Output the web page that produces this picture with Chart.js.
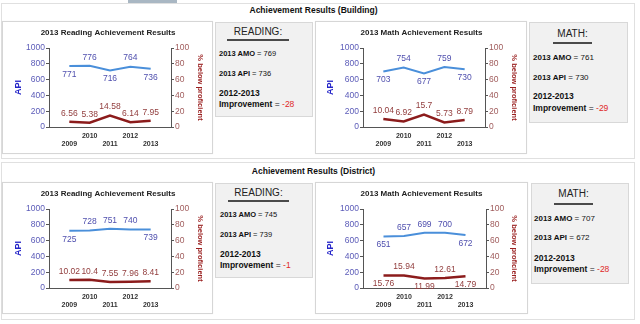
<!DOCTYPE html>
<html>
<head>
<meta charset="utf-8">
<title>Achievement Results</title>
<script src="https://cdn.jsdelivr.net/npm/chart.js@4.4.0/dist/chart.umd.min.js"></script>
<style>
  html, body { margin: 0; padding: 0; background: #fff; }
  body { width: 640px; height: 324px; position: relative; overflow: hidden;
         font-family: Arial, "Liberation Sans", sans-serif; color: #111; }
  .abs { position: absolute; box-sizing: border-box; }
  .tab { left: 128px; top: 0; width: 49px; height: 3px; background: #a9b7c3; }
  .outer { border: 1px solid #e0e0e0; background: #fff; }
  .header { left: 0; width: 627px; text-align: center; font-size: 8.5px; font-weight: bold; line-height: 10px; }
  .panel { background: #fff; border: 1px solid #d6d6d6; box-shadow: 0 0 1px rgba(0,0,0,0.08); }
  .box { background: #f1f1f1; border: 1px solid #d8d8d8; }
  .box .head { position: absolute; text-align: center; font-size: 10px; line-height: 12px; border-bottom: 2px solid #4a4a4a; color: #222; }
  .box .row { position: absolute; white-space: nowrap; line-height: 10px; }
  .neg { color: #e02828; }
  canvas { position: absolute; }
</style>
</head>
<body>
<div class="abs tab"></div>
<div class="abs outer" style="left:1px;top:3px;width:634px;height:156px"></div>
<div class="abs outer" style="left:1px;top:162px;width:634px;height:158px"></div>
<div class="abs header" style="top:5px">Achievement Results (Building)</div>
<div class="abs header" style="top:166px">Achievement Results (District)</div>

<div class="abs panel" style="left:2px;top:21px;width:211px;height:133px"></div>
<div class="abs panel" style="left:315px;top:21px;width:212px;height:133px"></div>
<div class="abs panel" style="left:2px;top:182px;width:211px;height:132px"></div>
<div class="abs panel" style="left:315px;top:182px;width:213px;height:132px"></div>

<canvas id="readingBuilding" width="210" height="131" style="left:3px;top:22px"></canvas>
<canvas id="mathBuilding" width="211" height="131" style="left:316px;top:22px"></canvas>
<canvas id="readingDistrict" width="210" height="131" style="left:3px;top:183px"></canvas>
<canvas id="mathDistrict" width="211" height="131" style="left:316px;top:183px"></canvas>

<script>
const years = [2009, 2010, 2011, 2012, 2013];

const readingBuildingApi = [771, 776, 716, 764, 736];
const readingBuildingBelow = [6.56, 5.38, 14.58, 6.14, 7.95];
const mathBuildingApi = [703, 754, 677, 759, 730];
const mathBuildingBelow = [10.04, 6.92, 15.7, 5.73, 8.79];
const readingDistrictApi = [725, 728, 751, 740, 739];
const readingDistrictBelow = [10.02, 10.4, 7.55, 7.96, 8.41];
const mathDistrictApi = [651, 657, 699, 700, 672];
const mathDistrictBelow = [15.76, 15.94, 11.99, 12.61, 14.79];

const apiTicks = [0, 200, 400, 600, 800, 1000];
const belowTicks = [0, 20, 40, 60, 80, 100];

// summary boxes: reading/math for the building, then reading/math for the district
const summarySubjects = ['READING:', 'MATH:', 'READING:', 'MATH:'];
const summaryAmo = [769, 761, 745, 707];
const summaryApi = [736, 730, 739, 672];
const summaryImprovement = [-28, -29, -1, -28];

const FONT = 'Arial, "Liberation Sans", sans-serif';
Chart.defaults.font.family = FONT;

// writes each point's value above or below it
const valueLabels = {
  id: 'valueLabels',
  afterDatasetsDraw(chart) {
    const ctx = chart.ctx;
    chart.data.datasets.forEach((ds, i) => {
      const meta = chart.getDatasetMeta(i);
      ctx.save();
      ctx.font = '8.5px ' + FONT;
      ctx.fillStyle = ds.labelColor;
      ctx.textAlign = 'center';
      ctx.textBaseline = 'middle';
      meta.data.forEach((pt, j) => {
        const dy = ds.labelSide[j] === 'up' ? -8.5 : 8.5;
        ctx.fillText(String(ds.data[j].y), pt.x, pt.y + dy);
      });
      ctx.restore();
    });
  }
};

function drawChart(id, title, apiData, belowData, cfg) {
  new Chart(document.getElementById(id), {
    type: 'line',
    data: {
      datasets: [
        {
          label: 'API',
          data: years.map((y, i) => ({ x: y, y: apiData[i] })),
          yAxisID: 'y',
          borderColor: '#4a8fda',
          borderWidth: 2,
          pointRadius: 0,
          tension: 0,
          labelColor: '#4f4fae',
          labelSide: cfg.apiSide
        },
        {
          label: '% below proficient',
          data: years.map((y, i) => ({ x: y, y: belowData[i] })),
          yAxisID: 'y1',
          borderColor: '#8c1c1c',
          borderWidth: 2.5,
          pointRadius: 0,
          tension: 0,
          labelColor: '#913c3c',
          labelSide: cfg.belowSide
        }
      ]
    },
    options: {
      responsive: false,
      animation: false,
      layout: { padding: 0 },
      plugins: {
        legend: { display: false },
        tooltip: { enabled: false },
        title: {
          display: true,
          text: title,
          color: '#222',
          font: { size: 8, weight: 'bold' },
          padding: { top: 6, bottom: 10.4 }
        }
      },
      scales: {
        x: {
          type: 'linear',
          min: 2008,
          max: 2014,
          afterBuildTicks: s => { s.ticks = years.map(v => ({ value: v })); },
          afterFit: s => { s.height = 26; },
          grid: { display: false, drawTicks: false },
          border: { display: true, color: '#555' },
          ticks: {
            autoSkip: false,
            maxRotation: 0,
            padding: 5,
            color: '#333',
            font: { size: 7, weight: 'bold', lineHeight: 1.15 },
            callback: v => years.indexOf(v) % 2 === 0 ? ['', String(v)] : String(v)
          }
        },
        y: {
          position: 'left',
          min: 0,
          max: 1000,
          afterBuildTicks: s => { s.ticks = apiTicks.map(v => ({ value: v })); },
          afterFit: s => { s.width = cfg.leftW; },
          grid: { drawOnChartArea: false, drawTicks: true, tickLength: 3, color: '#555' },
          border: { color: '#555' },
          ticks: { padding: 1, color: '#5b5bb8', font: { size: 8.5 }, callback: v => String(v) },
          title: {
            display: true,
            text: 'API',
            color: '#2424c8',
            font: { size: 9, weight: 'bold' },
            padding: { top: cfg.apiPad, bottom: 0 }
          }
        },
        y1: {
          position: 'right',
          min: 0,
          max: 100,
          afterBuildTicks: s => { s.ticks = belowTicks.map(v => ({ value: v })); },
          afterFit: s => { s.width = cfg.rightW; },
          grid: { drawOnChartArea: false, drawTicks: true, tickLength: 3, color: '#555' },
          border: { color: '#555' },
          ticks: { padding: 1, color: '#a05c5c', font: { size: 8.5 }, callback: v => String(v) },
          title: {
            display: true,
            text: '% below proficient',
            color: '#9a2020',
            font: { size: 7.5, weight: 'bold' },
            padding: { top: 8.5, bottom: 0 }
          }
        }
      }
    },
    plugins: [valueLabels]
  });
}

drawChart('readingBuilding', '2013 Reading Achievement Results', readingBuildingApi, readingBuildingBelow, {
  leftW: 46, rightW: 42, apiPad: 10.6,
  apiSide: ['down', 'up', 'down', 'up', 'down'],
  belowSide: ['up', 'up', 'up', 'up', 'up']
});
drawChart('mathBuilding', '2013 Math Achievement Results', mathBuildingApi, mathBuildingBelow, {
  leftW: 47, rightW: 42, apiPad: 9.6,
  apiSide: ['down', 'up', 'down', 'up', 'down'],
  belowSide: ['up', 'up', 'up', 'up', 'up']
});
drawChart('readingDistrict', '2013 Reading Achievement Results', readingDistrictApi, readingDistrictBelow, {
  leftW: 46, rightW: 42, apiPad: 10.6,
  apiSide: ['down', 'up', 'up', 'up', 'down'],
  belowSide: ['up', 'up', 'up', 'up', 'up']
});
drawChart('mathDistrict', '2013 Math Achievement Results', mathDistrictApi, mathDistrictBelow, {
  leftW: 47, rightW: 41, apiPad: 9.6,
  apiSide: ['down', 'up', 'up', 'up', 'down'],
  belowSide: ['down', 'up', 'down', 'up', 'down']
});

// summary boxes next to each chart
const boxLayout = [
  { left: 215, top: 22, w: 98, h: 95, headL: 11, headW: 62, headY: 9, lineY: 17, x: 3, rows: [31, 51, 70, 81], small: 7.5 },
  { left: 529, top: 22, w: 99, h: 101, headL: 23, headW: 39, headY: 11, lineY: 20, x: 3, rows: [35, 55, 73, 85], small: 8 },
  { left: 215, top: 183, w: 98, h: 95, headL: 12, headW: 61, headY: 9, lineY: 17, x: 4, rows: [31, 51, 70, 81], small: 7.5 },
  { left: 531, top: 183, w: 98, h: 101, headL: 22, headW: 39, headY: 10, lineY: 20, x: 2, rows: [35, 54, 74, 85], small: 8 }
];

boxLayout.forEach((b, i) => {
  const box = document.createElement('div');
  box.className = 'abs box';
  box.style.cssText = `left:${b.left}px;top:${b.top}px;width:${b.w}px;height:${b.h}px`;
  const head = `<div class="head" style="left:${b.headL}px;width:${b.headW}px;top:${b.headY - 6}px;padding-bottom:${b.lineY - b.headY - 7}px">${summarySubjects[i]}</div>`;
  const row = (y, size, html) =>
    `<div class="row" style="left:${b.x}px;top:${y - 5}px;font-size:${size}px">${html}</div>`;
  box.innerHTML = head +
    row(b.rows[0], b.small, `<b>2013 AMO</b> = ${summaryAmo[i]}`) +
    row(b.rows[1], b.small, `<b>2013 API</b> = ${summaryApi[i]}`) +
    row(b.rows[2], 8.5, `<b>2012-2013</b>`) +
    row(b.rows[3], 8.5, `<b>Improvement</b> = <span class="neg">${summaryImprovement[i]}</span>`);
  document.body.appendChild(box);
});
</script>
</body>
</html>
